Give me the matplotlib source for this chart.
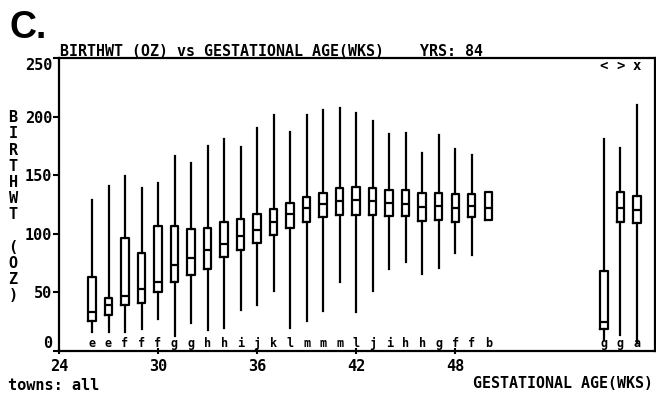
import matplotlib
matplotlib.use("Agg")
import matplotlib.pyplot as plt

# gestational age (weeks) for each box, and the letter code printed under it
weeks = [26, 27, 28, 29, 30, 31, 32, 33, 34, 35, 36, 37, 38, 39, 40, 41, 42,
         43, 44, 45, 46, 47, 48, 49, 50, 57, 58, 59]
codes = ["e", "e", "f", "f", "f", "g", "g", "h", "h", "i", "j", "k", "l", "m",
         "m", "m", "l", "j", "i", "h", "h", "g", "f", "f", "b", "g", "g", "a"]

# birth weight (oz) summaries
whis_hi = [129, 141, 149, 139, 143, 166, 160, 175, 181, 174, 190, 201, 187, 201,
           206, 207, 203, 196, 185, 186, 169, 184, 172, 167, 136, 181, 173, 210]
q3 = [63, 45, 96, 84, 107, 107, 104, 105, 110, 113, 117, 121, 126, 131,
      135, 139, 140, 139, 137, 137, 135, 135, 134, 134, 136, 68, 136, 132]
med = [33, 39, 47, 53, 59, 73, 79, 86, 91, 98, 103, 110, 117, 122,
       125, 128, 129, 128, 126, 125, 123, 124, 122, 124, 122, 25, 122, 120]
q1 = [26, 31, 39, 41, 50, 59, 65, 70, 80, 86, 92, 99, 105, 110,
      114, 116, 116, 116, 115, 115, 111, 112, 110, 114, 112, 19, 110, 109]
whis_lo = [16, 16, 16, 19, 27, 13, 24, 18, 20, 35, 39, 51, 20, 26,
           34, 59, 33, 51, 70, 76, 66, 71, 84, 82, 112, 9, 14, 8]

yticks = [0, 50, 100, 150, 200, 250]
xticks = [24, 30, 36, 42, 48]

mono = "DejaVu Sans Mono"

fig = plt.figure(figsize=(6.56, 3.97), dpi=100)
ax = fig.add_axes([0.0899, 0.1159, 0.9086, 0.738])

stats = []
for i in range(len(weeks)):
    stats.append({"whislo": whis_lo[i], "q1": q1[i], "med": med[i],
                  "q3": q3[i], "whishi": whis_hi[i]})

line = dict(color="black", linewidth=1.6)
ax.bxp(stats, positions=weeks, widths=0.45, showcaps=False, showfliers=False,
       boxprops=line, whiskerprops=line, medianprops=line, manage_ticks=False)

for w, c in zip(weeks, codes):
    ax.text(w, 3, c, ha="center", va="baseline", fontsize=8.5,
            fontweight="bold", family=mono)

for w, s in zip(weeks[-3:], ["<", ">", "x"]):
    ax.text(w, 243, s, ha="center", va="center", fontsize=10,
            fontweight="bold", family=mono)

ax.set_xlim(24, 60.1)
ax.set_ylim(0, 250)
ax.set_xticks(xticks)
ax.set_yticks(yticks)
ax.set_xticklabels([str(t) for t in xticks], fontsize=11, fontweight="bold",
                   family=mono)
ax.set_yticklabels([str(t) for t in yticks], fontsize=11, fontweight="bold",
                   family=mono)
ax.get_yticklabels()[0].set_va("bottom")
ax.get_yticklabels()[-1].set_va("top")
ax.tick_params(axis="y", direction="out", length=4, width=1.5, pad=1)
ax.tick_params(axis="x", direction="inout", length=5, width=1.5, pad=3)
for sp in ax.spines.values():
    sp.set_linewidth(1.6)

fig.text(0.015, 0.975, "C.", va="top", ha="left", fontsize=27,
         fontweight="bold", family="Liberation Sans")
fig.text(0.0915, 0.859, "BIRTHWT (OZ) vs GESTATIONAL AGE(WKS)    YRS: 84",
         va="baseline", ha="left", fontsize=10.8, fontweight="bold", family=mono)
fig.text(0.02, 0.479, "\n".join("BIRTHWT (OZ)"), va="center", ha="center",
         fontsize=11, fontweight="bold", family=mono, linespacing=1.1)
fig.text(0.012, 0.028, "towns: all", va="center", ha="left", fontsize=11,
         fontweight="bold", family=mono)
fig.text(0.995, 0.033, "GESTATIONAL AGE(WKS)", va="center", ha="right",
         fontsize=10.8, fontweight="bold", family=mono)

fig.savefig("out.png", dpi=100)
